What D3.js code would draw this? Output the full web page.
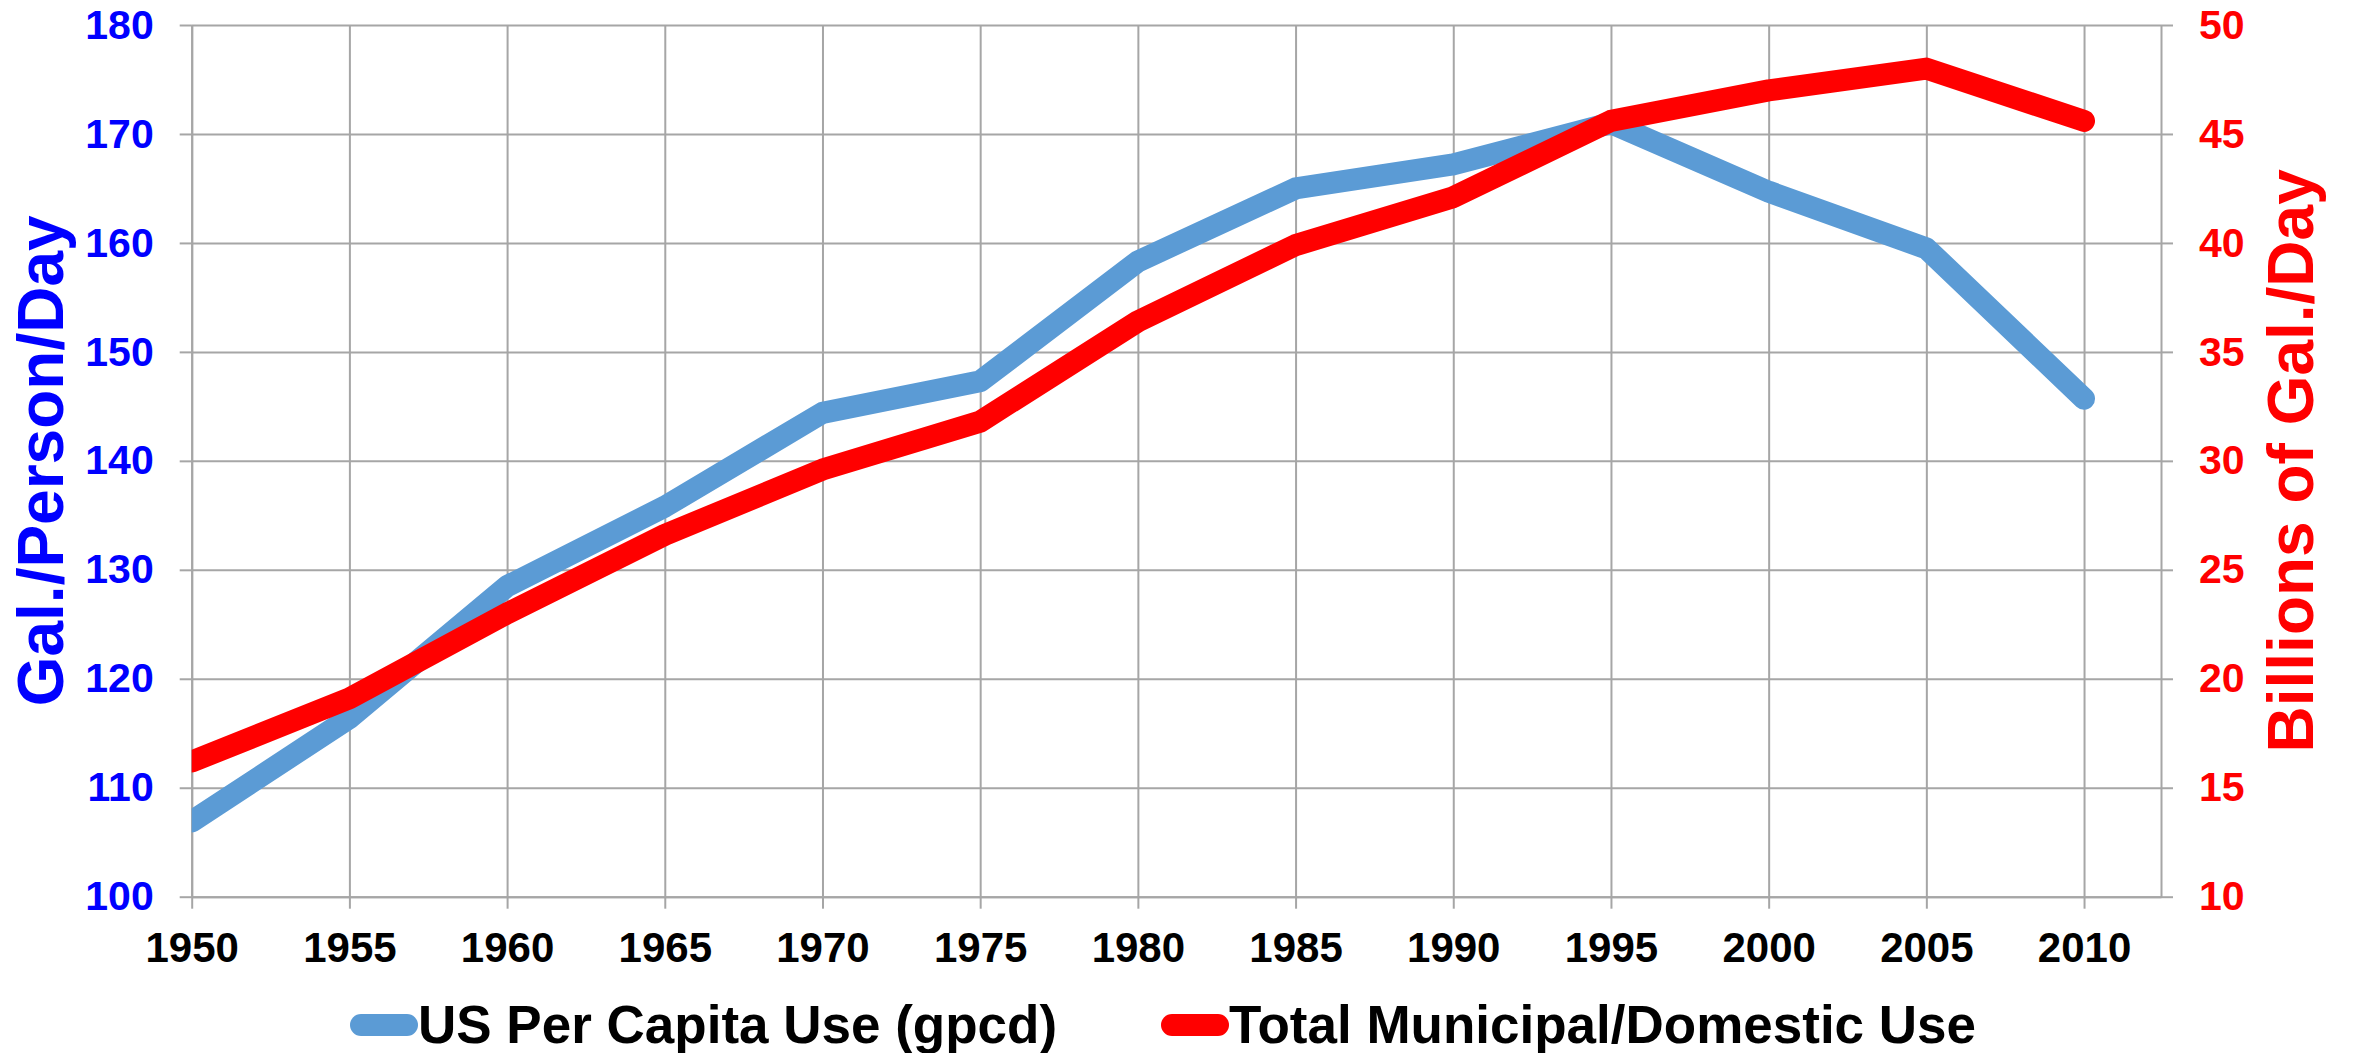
<!DOCTYPE html>
<html>
<head>
<meta charset="utf-8">
<script src="https://cdn.jsdelivr.net/npm/d3@7"></script>
<style>
  body { margin: 0; background: #fff; }
  text { font-family: "Liberation Sans", Arial, sans-serif; font-weight: bold; }
  .grid line { stroke: #a6a6a6; stroke-width: 2; }
  .grid path { display: none; }
  .axis path, .axis line { stroke: #a6a6a6; stroke-width: 2; }
</style>
</head>
<body>
<script>
// data
var years = [1950, 1955, 1960, 1965, 1970, 1975, 1980, 1985, 1990, 1995, 2000, 2005, 2010];
var perCapita = [106.9, 116.4, 128.5, 135.8, 144.4, 147.3, 158.3, 165.0, 167.2, 171.0, 164.7, 159.5, 145.7];
var totalUse = [16.2, 19.1, 23.0, 26.6, 29.6, 31.8, 36.4, 39.9, 42.1, 45.6, 47.0, 48.0, 45.6];
var leftTicks = [100, 110, 120, 130, 140, 150, 160, 170, 180];
var rightTicks = [10, 15, 20, 25, 30, 35, 40, 45, 50];
var seriesNames = ["US Per Capita Use (gpcd)", "Total Municipal/Domestic Use"];

var W = 2353, H = 1053;
// plot area edges (note: "top" is reserved on window, so use other names)
var plotLeft = 191.7, plotRight = 2161, plotTop = 25, plotBottom = 896.7;

var svg = d3.select("body").append("svg")
    .attr("width", W)
    .attr("height", H);

var x = d3.scaleLinear().domain([1950, 2012.44]).range([plotLeft, plotRight]);
var yL = d3.scaleLinear().domain([100, 180]).range([plotBottom, plotTop]);
var yR = d3.scaleLinear().domain([10, 50]).range([plotBottom, plotTop]);

// gridlines
svg.append("g")
    .attr("class", "grid")
    .attr("transform", "translate(" + plotLeft + ",0)")
    .call(d3.axisLeft(yL).tickValues(leftTicks).tickSize(-(plotRight - plotLeft)).tickFormat(""));

svg.append("g")
    .attr("class", "grid")
    .attr("transform", "translate(0," + plotBottom + ")")
    .call(d3.axisBottom(x).tickValues(years).tickSize(-(plotBottom - plotTop)).tickFormat(""));

// axes
var gLeft = svg.append("g")
    .attr("class", "axis")
    .attr("transform", "translate(" + plotLeft + ",0)")
    .call(d3.axisLeft(yL).tickValues(leftTicks).tickSize(12).tickSizeOuter(0).tickPadding(26));
gLeft.selectAll("text").attr("fill", "#0000ff").style("font-size", "41px");

var gRight = svg.append("g")
    .attr("class", "axis")
    .attr("transform", "translate(" + plotRight + ",0)")
    .call(d3.axisRight(yR).tickValues(rightTicks).tickSize(12).tickSizeOuter(0).tickPadding(26));
gRight.selectAll("text").attr("fill", "#ff0000").style("font-size", "41px");

var gBottom = svg.append("g")
    .attr("class", "axis")
    .attr("transform", "translate(0," + plotBottom + ")")
    .call(d3.axisBottom(x).tickValues(years).tickSize(12).tickSizeOuter(0).tickPadding(23).tickFormat(d3.format("d")));
gBottom.selectAll("text").attr("fill", "#000").style("font-size", "42px");

// axis titles
var midY = (plotTop + plotBottom) / 2;

svg.append("text")
    .attr("transform", "translate(63," + midY + ") rotate(-90)")
    .attr("text-anchor", "middle")
    .attr("fill", "#0000ff")
    .style("font-size", "64px")
    .text("Gal./Person/Day");

svg.append("text")
    .attr("transform", "translate(2313," + midY + ") rotate(-90)")
    .attr("text-anchor", "middle")
    .attr("fill", "#ff0000")
    .style("font-size", "64px")
    .text("Billions of Gal./Day");

// lines, clipped at the left axis
svg.append("clipPath").attr("id", "clip")
  .append("rect")
    .attr("x", plotLeft).attr("y", 0)
    .attr("width", W - plotLeft).attr("height", H);

var blueLine = d3.line()
    .x(function(d, i) { return x(years[i]); })
    .y(function(d) { return yL(d); });

var redLine = d3.line()
    .x(function(d, i) { return x(years[i]); })
    .y(function(d) { return yR(d); });

var plot = svg.append("g").attr("clip-path", "url(#clip)");

plot.append("path")
    .datum(perCapita)
    .attr("d", blueLine)
    .attr("fill", "none")
    .attr("stroke", "#5b9bd5")
    .attr("stroke-width", 22)
    .attr("stroke-linecap", "round")
    .attr("stroke-linejoin", "round");

plot.append("path")
    .datum(totalUse)
    .attr("d", redLine)
    .attr("fill", "none")
    .attr("stroke", "#ff0000")
    .attr("stroke-width", 22)
    .attr("stroke-linecap", "round")
    .attr("stroke-linejoin", "round");

// legend
var legend = [
    { name: seriesNames[0], color: "#5b9bd5", x0: 361 },
    { name: seriesNames[1], color: "#ff0000", x0: 1172 }
];

legend.forEach(function(d) {
    svg.append("line")
        .attr("x1", d.x0).attr("x2", d.x0 + 46)
        .attr("y1", 1025).attr("y2", 1025)
        .attr("stroke", d.color)
        .attr("stroke-width", 22)
        .attr("stroke-linecap", "round");
    svg.append("text")
        .attr("x", d.x0 + 57)
        .attr("y", 1043)
        .attr("fill", "#000")
        .style("font-size", "53px")
        .text(d.name);
});
</script>
</body>
</html>
